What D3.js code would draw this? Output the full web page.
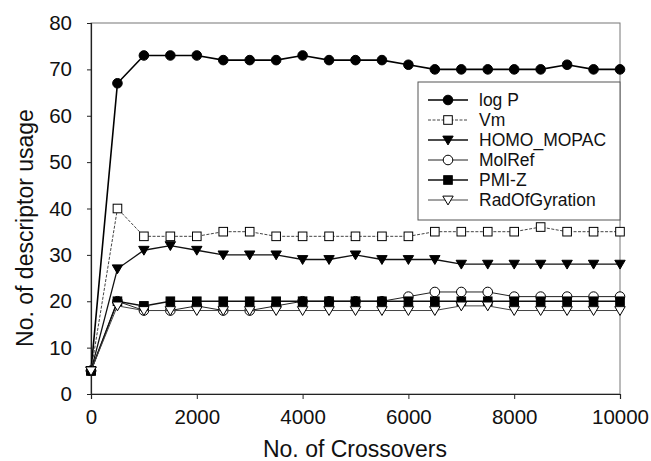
<!DOCTYPE html>
<html>
<head>
<meta charset="utf-8">
<script src="https://cdn.jsdelivr.net/npm/d3@7/dist/d3.min.js"></script>
<style>
  html, body { margin: 0; padding: 0; background: #fff; }
  svg { display: block; }
  text { font-family: Arial, "Liberation Sans", sans-serif; fill: #111; }
</style>
</head>
<body>
<svg id="chart" width="651" height="461"></svg>
<script>
const crossovers = [0, 500, 1000, 1500, 2000, 2500, 3000, 3500, 4000, 4500, 5000, 5500, 6000, 6500, 7000, 7500, 8000, 8500, 9000, 9500, 10000];
const logP      = [5, 67, 73, 73, 73, 72, 72, 72, 73, 72, 72, 72, 71, 70, 70, 70, 70, 70, 71, 70, 70];
const vm        = [5, 40, 34, 34, 34, 35, 35, 34, 34, 34, 34, 34, 34, 35, 35, 35, 35, 36, 35, 35, 35];
const homoMopac = [5, 27, 31, 32, 31, 30, 30, 30, 29, 29, 30, 29, 29, 29, 28, 28, 28, 28, 28, 28, 28];
const molRef    = [5, 20, 18, 18, 19, 18, 18, 19, 20, 20, 20, 20, 21, 22, 22, 22, 21, 21, 21, 21, 21];
const pmiZ      = [5, 20, 19, 20, 20, 20, 20, 20, 20, 20, 20, 20, 20, 20, 20, 20, 20, 20, 20, 20, 20];
const radOfGyr  = [5, 19, 18, 18, 18, 18, 18, 18, 18, 18, 18, 18, 18, 18, 19, 19, 18, 18, 18, 18, 18];
const seriesNames = ["log P", "Vm", "HOMO_MOPAC", "MolRef", "PMI-Z", "RadOfGyration"];
const xTicks = [0, 2000, 4000, 6000, 8000, 10000];
const yTicks = [0, 10, 20, 30, 40, 50, 60, 70, 80];

const seriesValues = [logP, vm, homoMopac, molRef, pmiZ, radOfGyr];
const styles = [
  {marker: "circle",   fill: "#000", line: "#000", width: 1.6, dash: null},
  {marker: "square",   fill: "#fff", line: "#444", width: 1.0, dash: "3,1.5"},
  {marker: "triDown",  fill: "#000", line: "#111", width: 1.3, dash: null},
  {marker: "circle",   fill: "#fff", line: "#222", width: 1.0, dash: null},
  {marker: "square",   fill: "#000", line: "#111", width: 1.5, dash: null},
  {marker: "triDown",  fill: "#fff", line: "#444", width: 1.0, dash: null}
];

const svg = d3.select("#chart");
const L = 91, R = 620, T = 23, B = 394;
const x = d3.scaleLinear().domain([0, 10000]).range([L, R]);
const y = d3.scaleLinear().domain([0, 80]).range([B, T]);

// frame
svg.append("rect").attr("x", L).attr("y", T).attr("width", R - L).attr("height", B - T)
  .attr("fill", "none").attr("stroke", "#777").attr("stroke-width", 1);

// axes
const xAxis = svg.append("g").attr("transform", `translate(0,${B})`)
  .call(d3.axisBottom(x).tickValues(xTicks).tickSize(5).tickPadding(10).tickFormat(d3.format("d")));
const yAxis = svg.append("g").attr("transform", `translate(${L},0)`)
  .call(d3.axisLeft(y).tickValues(yTicks).tickSize(4).tickPadding(15).tickFormat(d3.format("d")));
[xAxis, yAxis].forEach(a => {
  a.select(".domain").attr("stroke", "#222").attr("stroke-width", 1.2);
  a.selectAll(".tick line").attr("stroke", "#222");
  a.selectAll(".tick text").style("font-size", "20.5px").style("font-family", "Arial, 'Liberation Sans', sans-serif").attr("fill", "#111");
});

// axis titles
svg.append("text").attr("x", 355).attr("y", 457).attr("text-anchor", "middle")
  .style("font-size", "23px").text("No. of Crossovers");
svg.append("text").attr("transform", `translate(33,${228}) rotate(-90)`).attr("text-anchor", "middle")
  .style("font-size", "23px").text("No. of descriptor usage");

function drawMarker(g, type, cx, cy, st) {
  if (type === "circle") {
    g.append("circle").attr("cx", cx).attr("cy", cy).attr("r", 4.8)
      .attr("fill", st.fill).attr("stroke", "#000").attr("stroke-width", 1);
  } else if (type === "square") {
    g.append("rect").attr("x", cx - 4.3).attr("y", cy - 4.3).attr("width", 8.6).attr("height", 8.6)
      .attr("fill", st.fill).attr("stroke", "#000").attr("stroke-width", 1);
  } else {
    const s = 5.2;
    g.append("path").attr("d", `M${cx - s},${cy - s * 0.75} L${cx + s},${cy - s * 0.75} L${cx},${cy + s * 0.95} Z`)
      .attr("fill", st.fill).attr("stroke", "#000").attr("stroke-width", 1);
  }
}

const line = d3.line().x((d, i) => x(crossovers[i])).y(d => y(d));
const plot = svg.append("g");
seriesValues.forEach((vals, si) => {
  const st = styles[si];
  const g = plot.append("g");
  g.append("path").attr("d", line(vals)).attr("fill", "none")
    .attr("stroke", st.line).attr("stroke-width", st.width)
    .attr("stroke-dasharray", st.dash);
  vals.forEach((v, i) => drawMarker(g, st.marker, x(crossovers[i]), y(v), st));
});

// legend
const lg = svg.append("g");
lg.append("rect").attr("x", 418).attr("y", 82).attr("width", R - 418).attr("height", 138)
  .attr("fill", "#fff").attr("stroke", "#555").attr("stroke-width", 1);
seriesNames.forEach((name, i) => {
  const st = styles[i];
  const yy = 100 + i * 20;
  lg.append("line").attr("x1", 428).attr("x2", 468).attr("y1", yy).attr("y2", yy)
    .attr("stroke", st.line).attr("stroke-width", st.width).attr("stroke-dasharray", st.dash);
  drawMarker(lg, st.marker, 448, yy, st);
  lg.append("text").attr("x", 479).attr("y", yy + 6).style("font-size", "17.5px").text(name);
});
</script>
</body>
</html>
